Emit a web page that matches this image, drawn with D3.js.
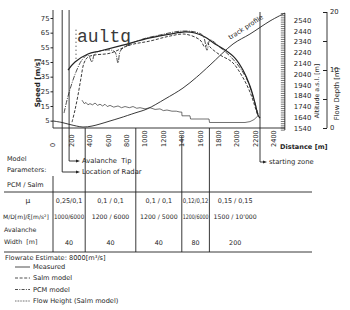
<!DOCTYPE html>
<html>
<head>
<meta charset="utf-8">
<script src="https://cdn.jsdelivr.net/npm/d3@7"></script>
<style>
  body { margin: 0; background: #fff; }
  svg { display: block; font-family: "DejaVu Sans", sans-serif; }
  text { fill: #1e1e1e; }
</style>
</head>
<body>
<svg id="chart" width="350" height="310"></svg>
<script>
// ---- data ----
var distTicks = [0, 200, 400, 600, 800, 1000, 1200, 1400, 1600, 1800, 2000, 2200, 2400];
var speedTicks = [5, 15, 25, 35, 45, 55, 65, 75];
var altTicks = [1540, 1640, 1740, 1840, 1940, 2040, 2140, 2240, 2340, 2440, 2540];
var depthTicks = [0, 5, 10, 15, 20];
var depthLabels = [0, 10, 20];

// speed [m/s] vs distance [m]
var measured = [[163, 39.5], [239, 45], [380, 50.5], [511, 52.5], [728, 56], [1054, 61.4], [1272, 64],
  [1435, 65.5], [1543, 64.8], [1652, 62], [1761, 57.3], [1870, 53.2], [1978, 47.7], [2065, 39.5],
  [2141, 28.6], [2196, 17], [2228, 8.9], [2250, 6.8]];
var salm = [[207, 4], [239, 12.3], [272, 22.5], [304, 34], [337, 44.3], [380, 48.4], [457, 49.8],
  [620, 51], [837, 56.6], [1054, 59.3], [1272, 62.7], [1435, 64], [1598, 60], [1652, 55], [1680, 58],
  [1707, 55.2], [1815, 49.8], [1946, 45], [2054, 35.5], [2141, 24.5], [2207, 12.3], [2228, 8.2]];
var pcm = [[120, 10.2], [152, 19], [196, 28.6], [250, 38.2], [315, 46.4], [380, 49.8], [424, 45],
  [457, 51], [620, 53.2], [674, 51.8], [707, 44.3], [739, 53.2], [946, 60], [1163, 63.4], [1380, 66],
  [1543, 65.5], [1630, 63], [1674, 53], [1707, 60], [1815, 55], [1924, 49], [2033, 41], [2120, 31.4],
  [2185, 19], [2228, 9.5]];
var pcmFront = [[250, 67], [250, 46]];

// flow height [m] (Salm model)
var flowHeight = [[315, 4.8], [340, 4.2], [359, 4.4], [380, 4.0], [402, 4.2], [430, 4.0], [457, 4.3],
  [485, 3.9], [511, 4.1], [540, 3.8], [565, 4.1], [590, 3.7], [620, 3.9], [660, 3.6], [707, 3.8],
  [745, 3.5], [783, 3.7], [830, 3.5], [870, 3.7], [910, 3.4], [946, 3.5], [1000, 3.3], [1054, 3.5],
  [1110, 3.2], [1163, 3.3], [1200, 3.0], [1239, 3.1], [1293, 2.9], [1340, 2.9], [1380, 2.75],
  [1400, 2.75], [1402, 2.1], [1489, 2.1], [1495, 1.55], [1696, 1.55], [1701, 0.95], [2087, 0.95],
  [2141, 1.1], [2185, 1.45], [2228, 2.1]];

// track profile: altitude [m a.s.l.] vs distance
var track = [[0, 1605], [98, 1591], [185, 1572], [326, 1549], [424, 1558], [511, 1577], [620, 1605],
  [728, 1633], [891, 1679], [1022, 1716], [1217, 1808], [1413, 1910], [1560, 2010], [1707, 2123],
  [1957, 2318], [2141, 2410], [2359, 2531], [2522, 2605]];

// model sections
var sectionEdges = [0, 350, 900, 1400, 1700, 2260];
var muVals = ["0,25/0,1", "0,1 / 0,1", "0,1 / 0,1", "0,12/0,12", "0,15 / 0,15"];
var mdVals = ["1000/6000", "1200 / 6000", "1200 / 5000", "1200/6000", "1500 / 10'000"];
var widthVals = ["40", "40", "40", "80", "200"];

var radarDist = 100, tipDist = 175, startDist = 2250;

// ---- drawing ----
var svg = d3.select('#chart');
var ink = '#222';

var x = d3.scaleLinear().domain([0, 2400]).range([53, 273.8]);
var ySpeed = d3.scaleLinear().domain([0, 75]).range([128, 18]);
var yAlt = d3.scaleLinear().domain([1540, 2540]).range([128, 20]);
var yDepth = d3.scaleLinear().domain([0, 20]).range([128, 12]);

function vline(xp, y1, y2) {
  svg.append('line').attr('x1', xp).attr('x2', xp).attr('y1', y1).attr('y2', y2)
    .attr('stroke', ink).attr('stroke-width', 0.9);
}
function hline(x1, x2, yp) {
  svg.append('line').attr('x1', x1).attr('x2', x2).attr('y1', yp).attr('y2', yp)
    .attr('stroke', ink).attr('stroke-width', 0.9);
}
function label(t, xp, yp, size, anchor) {
  return svg.append('text').attr('x', xp).attr('y', yp).attr('dy', '0.35em')
    .attr('xml:space', 'preserve')
    .attr('font-size', size).attr('text-anchor', anchor || 'start').text(t);
}

// frame lines
hline(x(0), x(2520), 128);
vline(x(0), 10, 128);

// speed axis
var gS = svg.append('g').attr('transform', 'translate(' + x(0) + ',0)')
  .call(d3.axisLeft(ySpeed).tickValues(speedTicks).tickSize(2.5).tickPadding(1));
gS.select('.domain').remove();
gS.attr('font-family', null).attr('font-size', 6.8);
gS.selectAll('line').attr('stroke', ink);
svg.append('text').attr('transform', 'translate(37,83) rotate(-90)').attr('text-anchor', 'middle')
  .attr('dy', '0.35em').attr('font-size', 7.2).attr('font-weight', 'bold').text('Speed [m/s]');

// altitude axis
var altX = x(2520);
vline(altX, 13, 130);
svg.append('g').selectAll('line').data(d3.range(1520, 2601, 20)).enter().append('line')
  .attr('x1', altX - 4).attr('x2', altX).attr('y1', function (d) { return yAlt(d); })
  .attr('y2', function (d) { return yAlt(d); }).attr('stroke', ink).attr('stroke-width', 0.6);
var gA = svg.append('g').attr('transform', 'translate(' + altX + ',0)')
  .call(d3.axisRight(yAlt).tickValues(altTicks).tickSize(0).tickPadding(9).tickFormat(d3.format('d')));
gA.select('.domain').remove();
gA.attr('font-family', null).attr('font-size', 6.9);
svg.append('text').attr('transform', 'translate(317,91) rotate(-90)').attr('text-anchor', 'middle')
  .attr('dy', '0.35em').attr('font-size', 6.3).text('Altitude a.s.l. [m]');

// flow depth axis
var depX = 327;
vline(depX, 12, 128);
var gD = svg.append('g').attr('transform', 'translate(' + depX + ',0)')
  .call(d3.axisLeft(yDepth).tickValues(depthTicks).tickSize(4).tickFormat(''));
gD.select('.domain').remove();
gD.selectAll('line').attr('stroke', ink);
svg.append('g').selectAll('text').data(depthLabels).enter().append('text')
  .attr('x', depX + 3).attr('y', function (d) { return yDepth(d); }).attr('dy', '0.35em')
  .attr('font-size', 6.8).text(function (d) { return d; });
svg.append('text').attr('transform', 'translate(337,94) rotate(-90)').attr('text-anchor', 'middle')
  .attr('dy', '0.35em').attr('font-size', 6.8).text('Flow Depth [m]');

// distance labels
svg.append('g').selectAll('text').data(distTicks).enter().append('text')
  .attr('transform', function (d) { return 'translate(' + x(d) + ',147) rotate(-90)'; })
  .attr('dy', '0.35em').attr('font-size', 6.6).text(function (d) { return d; });
label('Distance [m]', 280, 147, 6.6).attr('font-weight', 'bold');

// curves
var speedLine = d3.line().x(function (d) { return x(d[0]); }).y(function (d) { return ySpeed(d[1]); })
  .curve(d3.curveCatmullRom);
var depthLine = d3.line().x(function (d) { return x(d[0]); }).y(function (d) { return yDepth(d[1]); });
var altLine = d3.line().x(function (d) { return x(d[0]); }).y(function (d) { return yAlt(d[1]); })
  .curve(d3.curveCatmullRom);

svg.append('path').attr('d', altLine(track)).attr('fill', 'none').attr('stroke', ink).attr('stroke-width', 0.9);
svg.append('path').attr('d', depthLine(flowHeight)).attr('fill', 'none').attr('stroke', '#333').attr('stroke-width', 0.7);
svg.append('path').attr('d', speedLine(salm)).attr('fill', 'none').attr('stroke', ink)
  .attr('stroke-width', 0.9).attr('stroke-dasharray', '3,1.6');
svg.append('path').attr('d', speedLine(pcm)).attr('fill', 'none').attr('stroke', ink)
  .attr('stroke-width', 0.8).attr('stroke-dasharray', '5,1.2,1,1.2');
svg.append('path').attr('d', speedLine(pcmFront)).attr('fill', 'none').attr('stroke', ink)
  .attr('stroke-width', 1).attr('stroke-dasharray', '1,3');
svg.append('path').attr('d', speedLine(measured)).attr('fill', 'none').attr('stroke', ink).attr('stroke-width', 1.2);

// track profile label
var tp = track[15];
svg.append('text').attr('transform', 'translate(' + (x(tp[0]) - 3) + ',' + (yAlt(tp[1]) - 5) + ') rotate(-33)')
  .attr('text-anchor', 'middle').attr('font-size', 6.6).text('track profile');

// overlay scribble text
svg.append('text').attr('x', 77).attr('y', 42).attr('font-family', '"Liberation Mono", monospace')
  .attr('font-size', 18).style('fill', '#3a3a3a').text('aultq');

// marker lines with arrows
function marker(d, yTop, yArrow, xEnd, txt) {
  var xp = x(d);
  vline(xp, yTop, yArrow);
  hline(xp, xEnd - 3, yArrow);
  svg.append('path').attr('d', 'M' + (xEnd - 4) + ',' + (yArrow - 1.6) + 'L' + xEnd + ',' + yArrow + 'L' + (xEnd - 4) + ',' + (yArrow + 1.6) + 'Z')
    .attr('fill', ink);
  return label(txt, xEnd + 2, yArrow, 6.8);
}
marker(radarDist, 10, 172, 80, 'Location of Radar');
marker(tipDist, 10, 161, 80, 'Avalanche  Tip');
marker(startDist, 12, 162, 267, 'starting zone');

// table
hline(4, 312, 192);
hline(4, 312, 252);
vline(x(0), 176, 252);
sectionEdges.slice(1, 5).forEach(function (d) { vline(x(d), d === 1400 ? 136 : 128, 252); });

label('Model', 7, 159, 6.5);
label('Parameters:', 7, 170, 6.5);
label('PCM / Salm', 7, 185, 6.5);
label('\u03bc', 28, 200, 7.5, 'middle');
label('M/D[m]/\u03be[m/s\u00b2]', 3, 217, 6);
label('Avalanche', 4, 230, 6.3);
label('Width  [m]', 4, 242, 6.3);

// cell text, squeezed horizontally where the column is too narrow
function cellRow(vals, yp, size) {
  vals.forEach(function (v, i) {
    var c = (x(sectionEdges[i]) + x(sectionEdges[i + 1])) / 2;
    var w = x(sectionEdges[i + 1]) - x(sectionEdges[i]) - 2;
    var t = svg.append('text').attr('dy', '0.35em').attr('font-size', size)
      .attr('text-anchor', 'middle').attr('xml:space', 'preserve').text(v);
    var len = t.node().getComputedTextLength();
    var s = len > w ? w / len : 1;
    t.attr('transform', 'translate(' + c + ',' + yp + ') scale(' + s + ',1)');
  });
}
cellRow(muVals, 201, 6.4);
cellRow(mdVals, 217, 6.2);
cellRow(widthVals, 243, 6.4);

// legend
label('Flowrate Estimate: 8000[m\u00b3/s]', 5, 258, 6.6);
var legend = [
  { name: 'Measured', dash: null, y: 267 },
  { name: 'Salm model', dash: '3,1.6', y: 278 },
  { name: 'PCM model', dash: '3,1.3,1,1.3', y: 289.5 },
  { name: 'Flow Height (Salm model)', dash: '0.8,0.8', y: 301 }
];
legend.forEach(function (l) {
  svg.append('line').attr('x1', 15).attr('x2', 30).attr('y1', l.y).attr('y2', l.y)
    .attr('stroke', ink).attr('stroke-width', 0.8).attr('stroke-dasharray', l.dash);
  label(l.name, 33, l.y, 6.6);
});
</script>
</body>
</html>
